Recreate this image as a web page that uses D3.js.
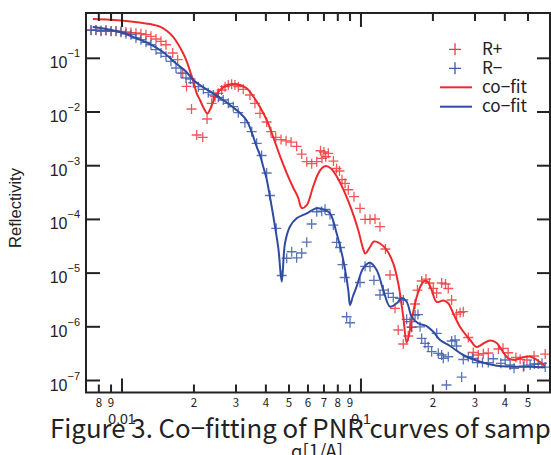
<!DOCTYPE html>
<html><head><meta charset="utf-8">
<script src="https://cdn.jsdelivr.net/npm/d3@7"></script>
<style>body{margin:0;background:#fff;overflow:hidden}svg{display:block}</style>
</head><body><svg id="c" width="551" height="455"></svg>
<script>
// ---- data ----
const rPlusQ = [0.00742,0.00778,0.00817,0.00857,0.0090,0.00944,0.0099,0.01039,0.0109,0.01144,0.0120,0.0126,0.01322,0.01388,0.01456,0.01528,0.0163,0.0171,0.01795,0.01862,0.01954,0.02054,0.02177,0.0227,0.02373,0.0245,0.02529,0.02613,0.0270,0.02785,0.02877,0.0297,0.03066,0.03217,0.0343,0.0360,0.0378,0.0403,0.0420,0.0440,0.0463,0.0486,0.0510,0.0538,0.0565,0.0593,0.0622,0.0653,0.0677,0.0687,0.0700,0.0712,0.0730,0.0767,0.0790,0.0813,0.0833,0.0858,0.0885,0.0935,0.0991,0.1040,0.1091,0.1145,0.1201,0.1266,0.1323,0.1388,0.1432,0.1503,0.1577,0.163,0.1684,0.1723,0.1795,0.1871,0.1935,0.2007,0.2074,0.2176,0.2258,0.2319,0.2396,0.2514,0.2599,0.268,0.2812,0.2951,0.3096,0.325,0.341,0.376,0.393,0.413,0.445,0.4635,0.478,0.495,0.530,0.590];
const rPlusR = [0.3365,0.3365,0.329,0.329,0.322,0.322,0.3155,0.309,0.302,0.296,0.287,0.275,0.257,0.229,0.207,0.179,0.1255,0.0942,0.0532,0.0299,0.01138,0.00373,0.00338,0.00741,0.01452,0.01927,0.0223,0.0257,0.0296,0.0318,0.0328,0.0318,0.0296,0.02647,0.02073,0.01452,0.00946,0.00651,0.0043,0.00338,0.00307,0.00291,0.00276,0.0023,0.00165,0.00119,0.00109,0.00119,0.0019,0.00137,0.0018,0.00147,0.0017,0.00122,0.000887,0.000797,0.000549,0.00047,0.000357,0.000265,0.000161,0.0001005,0.0001005,0.0001017,7.31e-5,2.81e-5,9.22e-6,2.21e-6,8.72e-7,4.78e-7,6.74e-7,1.0e-6,2.66e-6,4.84e-6,7.13e-6,7.76e-6,6.54e-6,5.21e-6,4.26e-6,6.54e-6,6.27e-6,5.17e-6,3.155e-6,1.73e-6,1.85e-6,1.91e-6,6.32e-7,3.32e-7,2.985e-7,3.16e-7,3.25e-7,3.86e-7,3.98e-7,3.29e-7,2.68e-7,2.48e-7,1.81e-7,2.41e-7,2.86e-7,3.11e-7];
const rMinusQ = [0.00742,0.00778,0.00817,0.00857,0.0090,0.00944,0.0099,0.01039,0.0109,0.01144,0.0120,0.0126,0.01322,0.01388,0.01456,0.01528,0.01603,0.01683,0.01766,0.01853,0.01934,0.01988,0.02086,0.02189,0.02296,0.0241,0.02529,0.02653,0.02785,0.02922,0.03066,0.0327,0.0349,0.0366,0.0384,0.0403,0.0416,0.0442,0.0466,0.0489,0.0513,0.0538,0.0565,0.0593,0.0622,0.0653,0.0685,0.0707,0.0742,0.0766,0.0791,0.0817,0.0837,0.0855,0.0871,0.0900,0.0991,0.1040,0.1091,0.1133,0.1201,0.124,0.1301,0.1365,0.1457,0.1503,0.1553,0.1604,0.163,0.1684,0.1732,0.1767,0.1795,0.1854,0.1912,0.1976,0.2074,0.2106,0.2176,0.2211,0.2279,0.2319,0.2396,0.2476,0.2514,0.2638,0.268,0.2812,0.2928,0.3072,0.3224,0.341,0.3577,0.385,0.4011,0.4209,0.437,0.481,0.5104,0.532,0.552,0.572,0.590];
const rMinusR = [0.332,0.332,0.318,0.332,0.318,0.318,0.305,0.287,0.275,0.2388,0.222,0.1986,0.179,0.1446,0.1255,0.109,0.0879,0.066,0.0532,0.043,0.0412,0.0351,0.0296,0.02647,0.02288,0.02073,0.01878,0.01673,0.01452,0.01255,0.0097,0.00632,0.0043,0.00261,0.00155,0.000731,0.000279,6.83e-5,9.03e-6,1.89e-5,2.5e-5,1.93e-5,2.37e-5,3.76e-5,8.21e-5,0.000139,0.000142,0.000154,0.000123,7.86e-5,3.72e-5,3.0e-5,1.445e-5,8.28e-6,1.54e-6,1.19e-6,6.68e-6,1.34e-5,1.315e-5,7.35e-6,3.91e-6,4.84e-6,4.2e-6,3.54e-6,3.39e-6,3.155e-6,1.38e-6,1.245e-6,9.8e-7,1.66e-6,1.69e-6,1.0e-6,6.1e-7,4.93e-7,4.26e-7,3.44e-7,7.57e-7,3.21e-7,2.985e-7,2.59e-7,8.25e-8,2.77e-7,5.44e-7,5.68e-7,4.39e-7,1.16e-7,2.46e-7,2.77e-7,2.59e-7,2.16e-7,2.16e-7,2.16e-7,2.54e-7,2.09e-7,2.41e-7,1.944e-7,1.69e-7,1.86e-7,1.94e-7,2.03e-7,2.03e-7,2.09e-7,1.78e-7];
const fitPlusQ = [0.00756,0.00891,0.01112,0.0131,0.0144,0.01543,0.01634,0.01715,0.0180,0.01871,0.0193,0.01982,0.02054,0.0212,0.02183,0.02279,0.0233,0.02403,0.02474,0.0257,0.02742,0.02914,0.0312,0.03325,0.03533,0.0378,0.0403,0.0428,0.0458,0.0489,0.0519,0.0545,0.0565,0.0593,0.0630,0.0661,0.0687,0.0714,0.0749,0.0794,0.0858,0.0914,0.0974,0.1019,0.1044,0.1091,0.1133,0.1201,0.1281,0.1365,0.1432,0.1503,0.1553,0.1588,0.163,0.1711,0.1795,0.1854,0.1907,0.1976,0.2074,0.2211,0.2319,0.2433,0.2599,0.2862,0.305,0.325,0.347,0.370,0.388,0.412,0.4417,0.472,0.5104,0.545,0.590];
const fitPlusR = [0.539,0.524,0.480,0.435,0.388,0.3224,0.2525,0.1846,0.1255,0.0853,0.0563,0.0394,0.0223,0.01673,0.01255,0.00937,0.01089,0.01535,0.02073,0.0257,0.0312,0.0332,0.0318,0.0276,0.01986,0.01239,0.0071,0.00357,0.00152,0.000731,0.000401,0.000261,0.000163,0.000185,0.000401,0.0007,0.000906,0.000987,0.000887,0.000616,0.000306,0.00015,6.35e-5,2.93e-5,2.32e-5,3.06e-5,3.88e-5,3.56e-5,2.69e-5,1.52e-5,6.46e-6,1.54e-6,5.1e-7,7.04e-7,1.338e-6,3.59e-6,6.27e-6,7.28e-6,6.83e-6,4.84e-6,2.9e-6,3.09e-6,2.74e-6,1.78e-6,9.92e-7,5.68e-7,4.2e-7,4.89e-7,5.56e-7,4.99e-7,3.7e-7,2.62e-7,2.41e-7,2.68e-7,2.8e-7,2.41e-7,1.86e-7];
const fitMinusQ = [0.00754,0.00857,0.00981,0.01144,0.0131,0.01484,0.01694,0.01853,0.01988,0.0212,0.02268,0.0241,0.0257,0.02742,0.02922,0.0312,0.03325,0.0350,0.0366,0.0378,0.0390,0.0402,0.0416,0.0437,0.0452,0.0466,0.0481,0.0504,0.0538,0.0593,0.0653,0.0695,0.0742,0.0791,0.0843,0.0885,0.0900,0.0926,0.0959,0.1022,0.1091,0.1163,0.124,0.1323,0.141,0.148,0.1553,0.163,0.1737,0.1883,0.2007,0.2143,0.236,0.268,0.3151,0.370,0.434,0.510,0.590];
const fitMinusR = [0.3828,0.3513,0.309,0.2388,0.1846,0.131,0.0783,0.0568,0.0394,0.0318,0.0262,0.0221,0.0182,0.01503,0.01213,0.00958,0.00695,0.00406,0.00226,0.00158,0.000958,0.00059,0.000265,7.31e-5,2.69e-5,6.92e-6,3.59e-5,7.31e-5,0.0001048,0.00013,0.000161,0.000154,0.00013,5.51e-5,1.75e-5,4.84e-6,2.55e-6,3.75e-6,5.58e-6,1.23e-5,1.56e-5,1.142e-5,4.84e-6,2.37e-6,2.74e-6,3.4e-6,2.93e-6,1.54e-6,1.16e-6,1.035e-6,8.1e-7,5.68e-7,4.39e-7,2.985e-7,2.24e-7,1.89e-7,1.81e-7,1.81e-7,1.76e-7];
const xMajorTicks = [0.01, 0.1];
const xMajorLabels = ["0.01", "0.1"];
const xMinorTicks = [0.008,0.009,0.02,0.03,0.04,0.05,0.06,0.07,0.08,0.09,0.2,0.3,0.4,0.5];
const xMinorLabels = ["8","9","2","3","4","5","6","7","8","9","2","3","4","5"];
const yTicks = [1e-1,1e-2,1e-3,1e-4,1e-5,1e-6,1e-7];
const yTickExp = ["−1","−2","−3","−4","−5","−6","−7"];
const legendLabels = ["R+","R−","co−fit","co−fit"];
const captionText = "Figure 3. Co−fitting of PNR curves of samples";
const captionVisible = "Figure 3. Co−fitting of PNR curves of samp";

// ---- drawing ----
const svg = d3.select("#c");
const L=86, R=550, T=13, B=392.5;
const x = d3.scaleLog().domain([0.00707, 0.618]).range([L, R]);
const y = d3.scaleLog().domain([0.698, 5.98e-8]).range([T, B]);
const RED="#ee2a2e", BLUE="#2f4c9f", RED_PT="#f0383c", BLUE_PT="#3c5aaa", INK="#222";
const sans = "'Liberation Sans', Arial, sans-serif";
const jp = "'Noto Sans CJK JP', 'Liberation Sans', sans-serif";

function fitWidth(sel, base, target){
  let fs = base;
  sel.each(function(){
    try{
      const w = this.getComputedTextLength();
      if (w>0){ fs = base*target/w; d3.select(this).style("font-size",fs.toFixed(2)+"px"); }
    }catch(e){}
  });
  return fs;
}

svg.append("defs").append("clipPath").attr("id","clip")
  .append("rect").attr("x",L).attr("y",T).attr("width",R-L).attr("height",B-T);
const plot = svg.append("g").attr("clip-path","url(#clip)");

const plus = a => `M${-a},0H${a}M0,${-a}V${a}`;
function scatter(qs, rs, color){
  plot.append("g").selectAll("path").data(qs.map((q,i)=>[q,rs[i]])).join("path")
    .attr("transform", d=>`translate(${x(d[0])},${y(d[1])})`)
    .attr("d", plus(5)).attr("stroke", color).attr("stroke-width",1.3)
    .attr("stroke-opacity",0.85).attr("fill","none");
}
scatter(rPlusQ, rPlusR, RED_PT);
scatter(rMinusQ, rMinusR, BLUE_PT);

const line = d3.line().x(d=>x(d[0])).y(d=>y(d[1])).curve(d3.curveCatmullRom.alpha(0.5));
plot.append("path").datum(fitPlusQ.map((q,i)=>[q,fitPlusR[i]])).attr("d",line)
  .attr("fill","none").attr("stroke",RED).attr("stroke-width",2);
plot.append("path").datum(fitMinusQ.map((q,i)=>[q,fitMinusR[i]])).attr("d",line)
  .attr("fill","none").attr("stroke",BLUE).attr("stroke-width",2);

// frame
svg.append("rect").attr("x",L).attr("y",T).attr("width",R-L).attr("height",B-T)
  .attr("fill","none").attr("stroke",INK).attr("stroke-width",2);

// ticks (inward on all four sides)
const ax = svg.append("g").attr("stroke",INK).attr("stroke-width",2);
xMajorTicks.forEach(v=>{
  ax.append("line").attr("x1",x(v)).attr("x2",x(v)).attr("y1",B).attr("y2",B-14);
  ax.append("line").attr("x1",x(v)).attr("x2",x(v)).attr("y1",T).attr("y2",T+14);
});
xMinorTicks.forEach(v=>{
  ax.append("line").attr("x1",x(v)).attr("x2",x(v)).attr("y1",B).attr("y2",B-8);
  ax.append("line").attr("x1",x(v)).attr("x2",x(v)).attr("y1",T).attr("y2",T+8);
});
yTicks.forEach(v=>{
  ax.append("line").attr("x1",L).attr("x2",L+14).attr("y1",y(v)).attr("y2",y(v));
  ax.append("line").attr("x1",R).attr("x2",R-13).attr("y1",y(v)).attr("y2",y(v));
});

// x tick labels
svg.append("g").selectAll("text").data(xMinorTicks).join("text")
  .attr("x",d=>x(d)).attr("y",407).attr("text-anchor","middle")
  .style("font-family",jp).style("font-size","11.5px").attr("fill",INK)
  .text((d,i)=>xMinorLabels[i]);
svg.append("g").selectAll("text").data(xMajorTicks).join("text")
  .attr("x",d=>x(d)).attr("y",424).attr("text-anchor","middle")
  .style("font-family",sans).style("font-size","14px").attr("fill",INK)
  .text((d,i)=>xMajorLabels[i]);

// y tick labels
const yl = svg.append("g").selectAll("text").data(yTicks).join("text")
  .attr("x",80).attr("y",d=>y(d)+10).attr("text-anchor","end")
  .style("font-family",sans).style("font-size","16px").attr("fill",INK);
yl.append("tspan").text("10");
yl.append("tspan").attr("dy",-11).style("font-size","11px").text((d,i)=>yTickExp[i]);

// y label
const ylab = svg.append("text").attr("transform","translate(21,208) rotate(-90)")
  .attr("text-anchor","middle").style("font-family",sans).style("font-size","15px")
  .attr("fill",INK).text("Reflectivity");
fitWidth(ylab, 15, 80);

// x label (partly cut off at the bottom)
const xlab = svg.append("text").attr("x",291).attr("y",458)
  .style("font-family",jp).style("font-size","16px").attr("fill",INK).text("q[1/A]");
fitWidth(xlab, 16, 52);

// caption
const cap = svg.append("text").attr("x",50).attr("y",438)
  .style("font-family",jp).style("font-size","22px").attr("fill",INK).text(captionText);
try{
  const w = cap.node().getSubStringLength(0, captionVisible.length);
  if (w>0) cap.style("font-size", (22*501/w).toFixed(2)+"px");
}catch(e){}

// legend
const lg = svg.append("g");
const legY = [49.3, 68.3, 87.3, 106.7];
lg.append("path").attr("transform",`translate(455,${legY[0]})`).attr("d",plus(6))
  .attr("stroke",RED_PT).attr("stroke-width",1.3);
lg.append("path").attr("transform",`translate(455,${legY[1]})`).attr("d",plus(6))
  .attr("stroke",BLUE_PT).attr("stroke-width",1.3);
lg.append("line").attr("x1",440).attr("x2",472).attr("y1",legY[2]).attr("y2",legY[2])
  .attr("stroke",RED).attr("stroke-width",2);
lg.append("line").attr("x1",440).attr("x2",472).attr("y1",legY[3]).attr("y2",legY[3])
  .attr("stroke",BLUE).attr("stroke-width",2);
const lt = lg.selectAll("text").data(legendLabels).join("text")
  .attr("x",482).attr("y",(d,i)=>legY[i]+5.5)
  .style("font-family",jp).style("font-size","15px").attr("fill",INK).text(d=>d);
const legFs = fitWidth(lt.filter((d,i)=>i===2), 15, 45);
lt.style("font-size", legFs.toFixed(2)+"px");
</script></body></html>
